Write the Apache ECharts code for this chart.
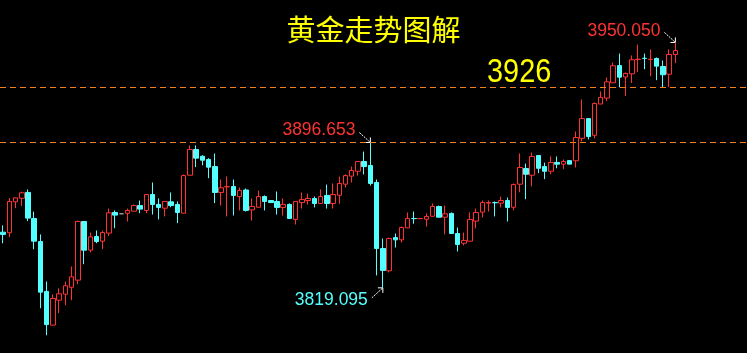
<!DOCTYPE html>
<html><head><meta charset="utf-8">
<script src="https://cdn.jsdelivr.net/npm/echarts@6/dist/echarts.min.js"></script>
<style>html,body{margin:0;padding:0;background:#000;}#c{width:747px;height:353px;}</style>
</head><body><div id="c"></div>
<script>
const opens  = [3848.8,3848.5,3865.0,3866.9,3870.0,3856.1,3843.8,3817.2,3799.2,3812.5,3815.7,3819.4,3823.2,3854.5,3839.2,3846.5,3844.0,3848.3,3859.3,3858.6,3858.9,3860.0,3863.0,3860.4,3868.9,3863.6,3861.6,3865.0,3863.6,3858.9,3879.2,3892.9,3889.3,3887.6,3883.8,3870.0,3873.0,3873.2,3867.8,3871.3,3860.7,3862.1,3867.8,3865.7,3865.2,3862.0,3863.6,3855.6,3864.6,3865.7,3866.8,3864.1,3868.4,3864.1,3868.5,3874.4,3878.7,3881.3,3886.5,3884.4,3875.3,3840.1,3828.2,3845.9,3844.7,3851.1,3856.1,3856.0,3855.7,3857.3,3862.5,3856.8,3858.8,3848.1,3842.9,3844.0,3854.7,3859.5,3864.3,3864.6,3864.3,3865.7,3862.1,3874.4,3882.8,3879.2,3889.7,3883.8,3881.3,3886.0,3885.1,3887.0,3886.9,3898.9,3909.4,3900.5,3917.2,3920.4,3928.5,3937.7,3931.6,3933.3,3940.9,3941.6,3940.9,3941.5,3937.2,3933.1,3943.6];
const closes = [3847.6,3865.2,3867.1,3869.8,3856.3,3844.0,3816.8,3799.5,3813.4,3815.9,3820.2,3825.0,3854.5,3839.2,3846.3,3843.8,3848.6,3859.1,3857.9,3858.6,3860.4,3863.0,3861.1,3868.9,3863.6,3862.0,3865.2,3863.0,3859.3,3879.0,3892.9,3888.3,3887.2,3883.5,3870.0,3872.5,3873.1,3868.4,3871.0,3860.4,3862.5,3867.8,3865.2,3864.6,3862.0,3863.6,3856.1,3865.2,3866.2,3866.8,3864.1,3867.8,3864.1,3868.9,3874.8,3879.0,3881.7,3886.5,3883.8,3874.8,3840.1,3828.4,3845.4,3844.7,3851.3,3856.1,3856.0,3856.1,3857.2,3862.5,3856.8,3858.6,3848.1,3842.2,3844.4,3855.6,3859.3,3864.6,3864.6,3864.5,3865.7,3862.0,3874.2,3883.3,3879.7,3889.2,3882.9,3881.3,3886.0,3885.1,3886.5,3885.1,3899.3,3909.4,3899.8,3917.5,3920.7,3929.0,3937.6,3931.5,3933.5,3940.8,3941.1,3941.5,3941.1,3937.4,3932.8,3943.6,3945.7];
const lows   = [3842.9,3846.1,3861.6,3862.7,3854.7,3839.7,3808.2,3793.8,3799.0,3805.6,3809.8,3812.5,3821.0,3831.7,3838.0,3842.9,3839.7,3846.7,3850.9,3858.6,3854.5,3859.9,3858.9,3858.9,3858.2,3855.6,3857.2,3862.1,3853.6,3858.8,3879.1,3883.5,3884.5,3877.6,3864.3,3863.0,3857.2,3857.7,3860.4,3859.8,3855.0,3862.0,3860.4,3864.6,3858.2,3857.7,3856.0,3852.9,3861.4,3863.6,3862.0,3864.0,3861.4,3861.4,3864.0,3872.6,3875.3,3879.0,3879.6,3873.7,3825.7,3819.095,3827.3,3840.6,3843.3,3851.0,3853.3,3856.0,3851.8,3857.2,3856.7,3847.7,3848.0,3838.5,3841.7,3843.9,3850.8,3856.6,3859.8,3857.2,3862.0,3854.5,3860.5,3870.1,3866.4,3873.3,3880.3,3877.1,3879.7,3882.9,3882.4,3885.1,3883.3,3897.3,3898.3,3898.9,3917.1,3918.7,3928.4,3926.1,3921.5,3928.4,3934.2,3935.8,3932.0,3929.9,3926.2,3926.2,3939.0];
const highs  = [3852.4,3867.1,3867.3,3870.4,3871.6,3859.8,3847.6,3822.5,3815.6,3818.9,3822.5,3830.5,3855.0,3854.6,3848.6,3849.7,3849.7,3861.4,3860.4,3858.6,3861.4,3863.6,3865.7,3869.0,3875.3,3866.8,3865.3,3870.0,3865.2,3879.6,3895.1,3895.1,3889.9,3888.3,3890.8,3876.9,3878.5,3876.9,3872.6,3872.1,3866.8,3871.0,3868.4,3865.7,3870.5,3866.8,3864.1,3865.3,3870.0,3869.4,3867.8,3871.6,3874.2,3874.8,3878.5,3879.6,3883.8,3886.6,3891.8,3896.653,3876.9,3845.4,3845.9,3848.1,3851.8,3859.3,3859.8,3856.1,3858.8,3864.1,3863.0,3863.0,3859.3,3851.3,3848.6,3859.3,3861.4,3865.7,3865.7,3865.2,3867.8,3867.3,3874.8,3890.8,3885.4,3891.3,3889.8,3885.9,3889.2,3889.2,3887.6,3887.0,3902.5,3919.6,3909.5,3918.0,3923.9,3931.3,3939.3,3944.1,3934.0,3943.1,3948.9,3944.1,3946.3,3942.0,3940.4,3946.3,3950.050];
const emptySlots = 11;
const refLevels = [3926, 3896.653];
const titleText = '黄金走势图解';
const levelLabel = '3926';
const peakValue = 3950.050, peakLabel = '3950.050';
const highValue = 3896.653, highLabel = '3896.653';
const lowValue = 3819.095, lowLabel = '3819.095';

const n = opens.length;
const categories = [];
for (let i = 0; i < n + emptySlots; i++) categories.push(String(i + 1));
const ohlc = opens.map((o, i) => [o, closes[i], lows[i], highs[i]]);

const RED = '#FF3232', CYAN = '#54FFFF', ORANGE = '#F08020', YELLOW = '#FFFF00';
const chart = echarts.init(document.getElementById('c'), null, {renderer: 'canvas'});
chart.setOption({
  backgroundColor: '#000',
  animation: false,
  title: {text: titleText, left: 'center', top: 10,
    textStyle: {color: YELLOW, fontSize: 29, fontWeight: 'normal', fontFamily: 'Noto Sans CJK SC'}},
  grid: {left: -1, right: -2, top: 0, bottom: 0},
  xAxis: {type: 'category', data: categories, show: false, boundaryGap: true},
  yAxis: {type: 'value', min: 3784.327, max: 3972.687, show: false, splitLine: {show: false}},
  series: [{
    type: 'candlestick', data: ohlc, barWidth: 5,
    itemStyle: {color: '#000', color0: CYAN, borderColor: RED, borderColor0: CYAN,
      borderColorDoji: '#A0A0A0', borderWidth: 1},
    markLine: {silent: true, symbol: 'none', label: {show: false},
      lineStyle: {color: ORANGE, type: [6, 4], width: 1},
      data: refLevels.map(v => ({yAxis: v}))}
  }]
});

const idxPeak = highs.indexOf(peakValue);
const idxHigh = highs.indexOf(highValue);
const idxLow = lows.indexOf(lowValue);
const pPeak = chart.convertToPixel({seriesIndex: 0}, [idxPeak, highs[idxPeak]]);
const pHigh = chart.convertToPixel({seriesIndex: 0}, [idxHigh, highs[idxHigh]]);
const pLow = chart.convertToPixel({seriesIndex: 0}, [idxLow, lows[idxLow]]);
const pLevel = chart.convertToPixel({seriesIndex: 0}, [0, refLevels[0]]);

function arrow(p, dir) {
  const sx = p[0] - 11, sy = p[1] + dir * 10;
  const ex = p[0], ey = p[1];
  return [
    {type: 'line', shape: {x1: sx, y1: sy, x2: ex, y2: ey}, style: {stroke: '#fff', lineWidth: 1, lineDash: [2, 1]}},
    {type: 'polyline', shape: {points: [[ex - 5, ey], [ex, ey], [ex, ey + dir * 5]]}, style: {stroke: '#fff', lineWidth: 1, fill: null}}
  ];
}
function label(p, txt, color, dy) {
  return {type: 'text', x: p[0] - 15, y: p[1] + dy,
    style: {text: txt, fill: color, font: '17.5px "Liberation Sans", Arial, sans-serif', align: 'right', verticalAlign: 'middle'}};
}
const els = [];
els.push(...arrow(pPeak, -1), label(pPeak, peakLabel, RED, -11));
els.push(...arrow(pHigh, -1), label(pHigh, highLabel, RED, -12));
els.push(...arrow(pLow, 1), label(pLow, lowLabel, CYAN, 12));
els.push({type: 'text', x: 487, y: pLevel[1] - 14.5, scaleX: 0.85,
  style: {text: levelLabel, fill: YELLOW, font: '34px "Liberation Sans", Arial, sans-serif', align: 'left', verticalAlign: 'middle'}});
chart.setOption({graphic: {elements: els}});
</script></body></html>
